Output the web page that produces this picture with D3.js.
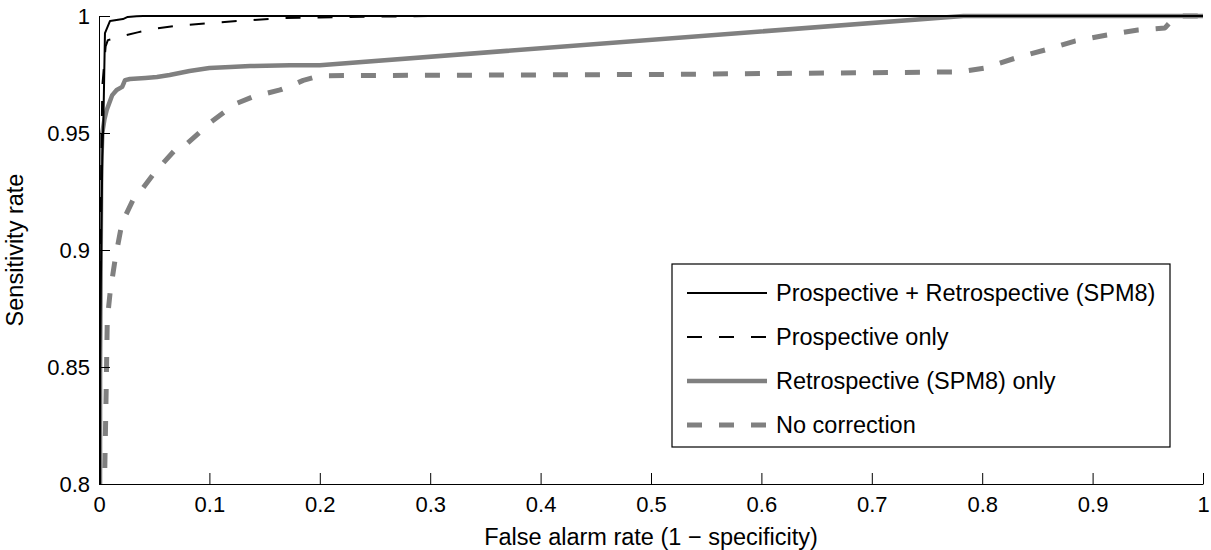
<!DOCTYPE html>
<html>
<head>
<meta charset="utf-8">
<script src="https://cdn.jsdelivr.net/npm/d3@7"></script>
<style>
  body { margin: 0; background: #fff; }
  svg { display: block; font-family: "Liberation Sans", Arial, sans-serif; }
</style>
</head>
<body>
<div id="roc"></div>
<script>
// ROC curves, values (FPR, sensitivity)
var xTicks = [0, 0.1, 0.2, 0.3, 0.4, 0.5, 0.6, 0.7, 0.8, 0.9, 1];
var xTickLabels = ["0", "0.1", "0.2", "0.3", "0.4", "0.5", "0.6", "0.7", "0.8", "0.9", "1"];
var yTicks = [0.8, 0.85, 0.9, 0.95, 1];
var yTickLabels = ["0.8", "0.85", "0.9", "0.95", "1"];

var seriesNames = ["Prospective + Retrospective (SPM8)", "Prospective only",
                   "Retrospective (SPM8) only", "No correction"];

var bothFpr = [0, 0.001, 0.002, 0.003, 0.004, 0.0054, 0.01, 0.0217, 0.026, 0.034, 0.04, 1];
var bothTpr = [0, 0.85, 0.9, 0.94, 0.9556, 0.9927, 0.9979, 0.9987, 0.9996, 0.9999, 1, 1];

var prospFpr = [0, 0.001, 0.003, 0.006, 0.008, 0.015, 0.022, 0.035, 0.05, 0.07, 0.1, 0.13, 0.164, 0.2, 0.25, 0.3, 1];
var prospTpr = [0, 0.9, 0.97, 0.987, 0.9897, 0.9905, 0.9915, 0.993, 0.9945, 0.9958, 0.997, 0.998, 0.9991, 0.9994, 0.9997, 1, 1];

var retroFpr = [0, 0.001, 0.002, 0.003, 0.005, 0.007, 0.012, 0.016, 0.021, 0.0236, 0.028, 0.042, 0.0525, 0.064, 0.082, 0.1, 0.119, 0.137, 0.173, 0.2, 0.783, 1];
var retroTpr = [0, 0.85, 0.935, 0.95, 0.956, 0.9598, 0.9662, 0.9684, 0.9697, 0.9726, 0.9731, 0.9735, 0.9739, 0.9748, 0.9765, 0.9778, 0.9782, 0.9786, 0.979, 0.979, 1, 1];

var noneFpr = [0, 0.004, 0.005, 0.0065, 0.0075, 0.010, 0.0145, 0.0208, 0.0308, 0.0371, 0.0507, 0.0688, 0.0761, 0.0915, 0.0978, 0.116, 0.1214, 0.139, 0.164, 0.173, 0.185, 0.2, 0.5, 0.78, 0.8025, 0.83, 0.857, 0.884, 0.913, 0.941, 0.9656, 0.972, 0.977, 1];
var noneTpr = [0, 0.7, 0.8, 0.84, 0.87, 0.8816, 0.8957, 0.9115, 0.9214, 0.9248, 0.9333, 0.9427, 0.944, 0.9504, 0.9534, 0.9598, 0.962, 0.9654, 0.9684, 0.970, 0.9725, 0.9745, 0.975, 0.9761, 0.9778, 0.982, 0.9855, 0.9893, 0.9919, 0.994, 0.9949, 0.9983, 1, 1];

var margin = {top: 16, right: 8, bottom: 66, left: 99},
    width = 1211 - margin.left - margin.right,
    height = 550 - margin.top - margin.bottom;

var svg = d3.select("#roc")
  .append("svg")
    .attr("width", 1211)
    .attr("height", 550)
  .append("g")
    .attr("transform", "translate(" + margin.left + "," + margin.top + ")");

var x = d3.scaleLinear().domain([0, 1]).range([0, width]);
var y = d3.scaleLinear().domain([0.8, 1]).range([height, 0]);

svg.append("clipPath").attr("id", "plotclip")
  .append("rect")
    .attr("x", 0).attr("y", -4)
    .attr("width", width + 4).attr("height", height + 4);

var styles = [
  {color: "#000", w: 2, dash: null},
  {color: "#000", w: 2, dash: "15,17"},
  {color: "#808080", w: 4.5, dash: null},
  {color: "#808080", w: 5, dash: "15,17"}
];

var series = [
  d3.zip(bothFpr, bothTpr),
  d3.zip(prospFpr, prospTpr),
  d3.zip(retroFpr, retroTpr),
  d3.zip(noneFpr, noneTpr)
];

var line = d3.line()
  .x(d => x(d[0]))
  .y(d => y(d[1]));

// draw back to front so black curves sit on top
var order = [3, 2, 1, 0];
svg.append("g").attr("clip-path", "url(#plotclip)")
  .selectAll("path")
  .data(order)
  .enter()
  .append("path")
    .attr("d", i => line(series[i]))
    .attr("fill", "none")
    .attr("stroke", i => styles[i].color)
    .attr("stroke-width", i => styles[i].w)
    .attr("stroke-dasharray", i => styles[i].dash)
    .attr("stroke-linejoin", "round");

// axes, matlab style inward ticks
var xAxis = svg.append("g")
  .attr("transform", "translate(0," + height + ")")
  .call(d3.axisBottom(x)
    .tickValues(xTicks)
    .tickFormat((d, i) => xTickLabels[i])
    .tickSizeInner(-11)
    .tickSizeOuter(0)
    .tickPadding(12));

var yAxis = svg.append("g")
  .call(d3.axisLeft(y)
    .tickValues(yTicks)
    .tickFormat((d, i) => yTickLabels[i])
    .tickSizeInner(-11)
    .tickSizeOuter(0)
    .tickPadding(9));

[xAxis, yAxis].forEach(function(a) {
  a.attr("font-family", "Liberation Sans, Arial, sans-serif").attr("font-size", 22);
  a.selectAll("text").attr("fill", "#000");
  a.selectAll("line").attr("stroke", "#000");
  a.select(".domain").attr("stroke", "#000");
});
yAxis.selectAll("text").attr("dy", "0.36em");
xAxis.selectAll("text").attr("dy", "0.71em");

// axis titles
svg.append("text")
  .attr("x", width / 2)
  .attr("y", height + 61)
  .attr("text-anchor", "middle")
  .attr("font-size", 23.5)
  .text("False alarm rate (1 \u2212 specificity)");

svg.append("text")
  .attr("transform", "translate(" + (-76) + "," + (height / 2) + ") rotate(-90)")
  .attr("text-anchor", "middle")
  .attr("font-size", 23.5)
  .text("Sensitivity rate");

// legend
var lg = svg.append("g")
  .attr("transform", "translate(" + (672 - margin.left) + "," + (264 - margin.top) + ")");

lg.append("rect")
  .attr("width", 498).attr("height", 183)
  .attr("fill", "#fff").attr("stroke", "#000").attr("stroke-width", 1.2);

var rows = lg.selectAll("g.row")
  .data(seriesNames)
  .enter()
  .append("g")
    .attr("transform", (d, i) => "translate(0," + (29 + i * 44) + ")");

rows.append("line")
  .attr("x1", 15).attr("x2", 95)
  .attr("stroke", (d, i) => styles[i].color)
  .attr("stroke-width", (d, i) => styles[i].w)
  .attr("stroke-dasharray", (d, i) => styles[i].dash);

rows.append("text")
  .attr("x", 104)
  .attr("dy", "0.36em")
  .attr("font-size", 23.5)
  .text(d => d);
</script>
</body>
</html>
